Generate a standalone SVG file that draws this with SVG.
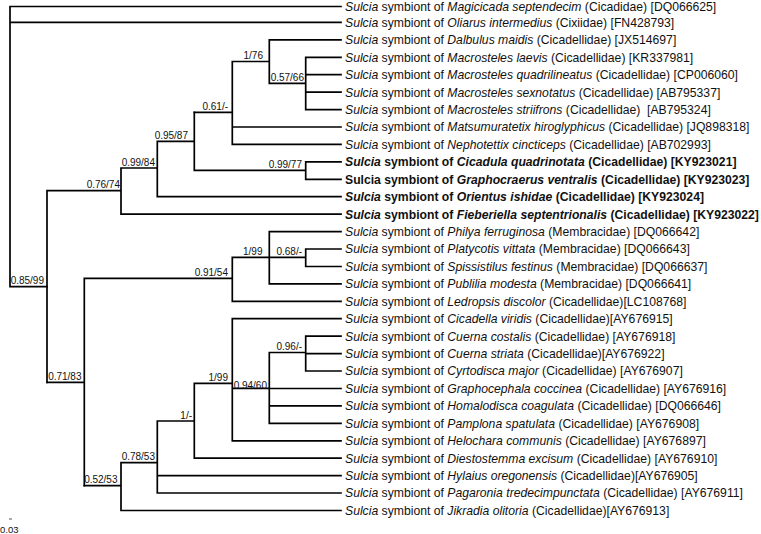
<svg xmlns="http://www.w3.org/2000/svg" width="761" height="534" viewBox="0 0 761 534">
<style>
.br{fill:none;stroke:#000;stroke-width:1.7;stroke-linecap:square}
.lf{font-family:"Liberation Sans",Arial,sans-serif;font-size:12.2px;fill:#111;white-space:pre}
.b{font-weight:bold}
.i{font-style:italic}
.sp{font-family:"Liberation Sans",Arial,sans-serif;font-size:10px;fill:#111;text-anchor:end}
</style>
<rect width="761" height="534" fill="#fff"/>
<g id="connectors">
<path class="br" d="M10,6.5V286.7M10,6.5H341M10,22.4H341M10,286.7H47"/>
<path class="br" d="M47,190.7V382.3M47,190.7H121M121,168V214.2M121,214.2H341M121,168H157.3M157.3,141.3V196.7M157.3,196.7H341M157.3,141.3H194.3M194.3,112.3V170.3M194.3,170.3H305.7M305.7,161.9V179.3M305.7,161.9H341M305.7,179.3H341"/>
<path class="br" d="M194.3,112.3H232.3M232.3,61.5V144.4M232.3,127H341M232.3,144.4H341M232.3,61.5H269.3M269.3,39.9V83.3M269.3,39.9H341M269.3,83.3H305.7M305.7,57.3V109.6M305.7,57.3H341M305.7,74.7H341M305.7,92.2H341M305.7,109.6H341"/>
<path class="br" d="M47,382.3H84.3M84.3,278.3V485.7M84.3,278.3H232.3M232.3,257.3V301.3M232.3,301.3H341M232.3,257.3H269.3M269.3,231.6V283.9M269.3,231.6H341M269.3,283.9H341M269.3,257.3H305.7M305.7,249V266.5M305.7,249H341M305.7,266.5H341"/>
<path class="br" d="M84.3,485.7H121M121,462.7V510.5M121,510.5H341M121,462.7H157.3M157.3,421V493M157.3,475.6H341M157.3,493H341M157.3,421H194.3M194.3,383.3V458.2M194.3,458.2H341M194.3,383.3H232.3M232.3,318.7V440.8M232.3,318.7H341M232.3,440.8H341M232.3,388.3H269.3M269.3,352.5V423.3M269.3,388.5H341M269.3,405.9H341M269.3,423.3H341M269.3,352.5H305.7M305.7,336.2V371M305.7,336.2H341M305.7,353.6H341M305.7,371H341"/>
<path d="M9,519H12" stroke="#555" stroke-width="1"/>
</g>
<g id="leaves">
<g id="leaf-magicicada"><text class="lf" x="345" y="11"><tspan class="i">Sulcia</tspan> symbiont of <tspan class="i">Magicicada septendecim</tspan> (Cicadidae) [DQ066625]</text></g>
<g id="leaf-oliarus"><text class="lf" x="345" y="26.7"><tspan class="i">Sulcia</tspan> symbiont of <tspan class="i">Oliarus intermedius</tspan> (Cixiidae) [FN428793]</text></g>
<g id="leaf-dalbulus"><text class="lf" x="345" y="44.2"><tspan class="i">Sulcia</tspan> symbiont of <tspan class="i">Dalbulus maidis</tspan> (Cicadellidae) [JX514697]</text></g>
<g id="leaf-m-laevis"><text class="lf" x="345" y="61.6"><tspan class="i">Sulcia</tspan> symbiont of <tspan class="i">Macrosteles laevis</tspan> (Cicadellidae) [KR337981]</text></g>
<g id="leaf-m-quadrilineatus"><text class="lf" x="345" y="79"><tspan class="i">Sulcia</tspan> symbiont of <tspan class="i">Macrosteles quadrilineatus</tspan> (Cicadellidae) [CP006060]</text></g>
<g id="leaf-m-sexnotatus"><text class="lf" x="345" y="96.5"><tspan class="i">Sulcia</tspan> symbiont of <tspan class="i">Macrosteles sexnotatus</tspan> (Cicadellidae) [AB795337]</text></g>
<g id="leaf-m-striifrons"><text class="lf" x="345" y="113.9"><tspan class="i">Sulcia</tspan> symbiont of <tspan class="i">Macrosteles striifrons</tspan> (Cicadellidae)  [AB795324]</text></g>
<g id="leaf-matsumuratetix"><text class="lf" x="345" y="131.3"><tspan class="i">Sulcia</tspan> symbiont of <tspan class="i">Matsumuratetix hiroglyphicus</tspan> (Cicadellidae) [JQ898318]</text></g>
<g id="leaf-nephotettix"><text class="lf" x="345" y="148.7"><tspan class="i">Sulcia</tspan> symbiont of <tspan class="i">Nephotettix cincticeps</tspan> (Cicadellidae) [AB702993]</text></g>
<g id="leaf-cicadula"><text class="lf b" x="345" y="166.2"><tspan class="i">Sulcia</tspan> symbiont of <tspan class="i">Cicadula quadrinotata</tspan> (Cicadellidae) [KY923021]</text></g>
<g id="leaf-graphocraerus"><text class="lf b" x="345" y="183.6">Sulcia symbiont of <tspan class="i">Graphocraerus ventralis</tspan> (Cicadellidae) [KY923023]</text></g>
<g id="leaf-orientus"><text class="lf b" x="345" y="201"><tspan class="i">Sulcia</tspan> symbiont of <tspan class="i">Orientus ishidae</tspan> (Cicadellidae) [KY923024]</text></g>
<g id="leaf-fieberiella"><text class="lf b" x="345" y="218.5"><tspan class="i">Sulcia</tspan> symbiont of <tspan class="i">Fieberiella septentrionalis</tspan> (Cicadellidae) [KY923022]</text></g>
<g id="leaf-philya"><text class="lf" x="345" y="235.9"><tspan class="i">Sulcia</tspan> symbiont of <tspan class="i">Philya ferruginosa</tspan> (Membracidae) [DQ066642]</text></g>
<g id="leaf-platycotis"><text class="lf" x="345" y="253.3"><tspan class="i">Sulcia</tspan> symbiont of <tspan class="i">Platycotis vittata</tspan> (Membracidae) [DQ066643]</text></g>
<g id="leaf-spissistilus"><text class="lf" x="345" y="270.8"><tspan class="i">Sulcia</tspan> symbiont of <tspan class="i">Spissistilus festinus</tspan> (Membracidae) [DQ066637]</text></g>
<g id="leaf-publilia"><text class="lf" x="345" y="288.2"><tspan class="i">Sulcia</tspan> symbiont of <tspan class="i">Publilia modesta</tspan> (Membracidae) [DQ066641]</text></g>
<g id="leaf-ledropsis"><text class="lf" x="345" y="305.6"><tspan class="i">Sulcia</tspan> symbiont of <tspan class="i">Ledropsis discolor</tspan> (Cicadellidae)[LC108768]</text></g>
<g id="leaf-cicadella"><text class="lf" x="345" y="323"><tspan class="i">Sulcia</tspan> symbiont of <tspan class="i">Cicadella viridis</tspan> (Cicadellidae)[AY676915]</text></g>
<g id="leaf-c-costalis"><text class="lf" x="345" y="340.5"><tspan class="i">Sulcia</tspan> symbiont of <tspan class="i">Cuerna costalis</tspan> (Cicadellidae) [AY676918]</text></g>
<g id="leaf-c-striata"><text class="lf" x="345" y="357.9"><tspan class="i">Sulcia</tspan> symbiont of <tspan class="i">Cuerna striata</tspan> (Cicadellidae)[AY676922]</text></g>
<g id="leaf-cyrtodisca"><text class="lf" x="345" y="375.3"><tspan class="i">Sulcia</tspan> symbiont of <tspan class="i">Cyrtodisca major</tspan> (Cicadellidae) [AY676907]</text></g>
<g id="leaf-graphocephala"><text class="lf" x="345" y="392.8"><tspan class="i">Sulcia</tspan> symbiont of <tspan class="i">Graphocephala coccinea</tspan> (Cicadellidae) [AY676916]</text></g>
<g id="leaf-homalodisca"><text class="lf" x="345" y="410.2"><tspan class="i">Sulcia</tspan> symbiont of <tspan class="i">Homalodisca coagulata</tspan> (Cicadellidae) [DQ066646]</text></g>
<g id="leaf-pamplona"><text class="lf" x="345" y="427.6"><tspan class="i">Sulcia</tspan> symbiont of <tspan class="i">Pamplona spatulata</tspan> (Cicadellidae) [AY676908]</text></g>
<g id="leaf-helochara"><text class="lf" x="345" y="445.1"><tspan class="i">Sulcia</tspan> symbiont of <tspan class="i">Helochara communis</tspan> (Cicadellidae) [AY676897]</text></g>
<g id="leaf-diestostemma"><text class="lf" x="345" y="462.5"><tspan class="i">Sulcia</tspan> symbiont of <tspan class="i">Diestostemma excisum</tspan> (Cicadellidae) [AY676910]</text></g>
<g id="leaf-hylaius"><text class="lf" x="345" y="479.9"><tspan class="i">Sulcia</tspan> symbiont of <tspan class="i">Hylaius oregonensis</tspan> (Cicadellidae)[AY676905]</text></g>
<g id="leaf-pagaronia"><text class="lf" x="345" y="497.3"><tspan class="i">Sulcia</tspan> symbiont of <tspan class="i">Pagaronia tredecimpunctata</tspan> (Cicadellidae) [AY676911]</text></g>
<g id="leaf-jikradia"><text class="lf" x="345" y="514.8"><tspan class="i">Sulcia</tspan> symbiont of <tspan class="i">Jikradia olitoria</tspan> (Cicadellidae)[AY676913]</text></g>
</g>
<g id="support">
<g id="n-085-99"><text class="sp" x="44" y="284.3">0.85/99</text></g>
<g id="n-076-74"><text class="sp" x="120" y="188.3">0.76/74</text></g>
<g id="n-099-84"><text class="sp" x="155" y="165.6">0.99/84</text></g>
<g id="n-095-87"><text class="sp" x="188" y="138.9">0.95/87</text></g>
<g id="n-061"><text class="sp" x="228" y="109.9">0.61/-</text></g>
<g id="n-1-76"><text class="sp" x="263" y="59.1">1/76</text></g>
<g id="n-057-66"><text class="sp" x="304" y="80.9">0.57/66</text></g>
<g id="n-099-77"><text class="sp" x="302" y="167.9">0.99/77</text></g>
<g id="n-071-83"><text class="sp" x="81.5" y="379.9">0.71/83</text></g>
<g id="n-091-54"><text class="sp" x="228" y="275.9">0.91/54</text></g>
<g id="n-1-99a"><text class="sp" x="262.5" y="254.9">1/99</text></g>
<g id="n-068"><text class="sp" x="302" y="254.9">0.68/-</text></g>
<g id="n-052-53"><text class="sp" x="117.5" y="483.3">0.52/53</text></g>
<g id="n-078-53"><text class="sp" x="155" y="460.3">0.78/53</text></g>
<g id="n-1"><text class="sp" x="192" y="418.6">1/-</text></g>
<g id="n-1-99b"><text class="sp" x="228" y="380.9">1/99</text></g>
<g id="n-094-60"><text class="sp" x="267" y="389">0.94/60</text></g>
<g id="n-096"><text class="sp" x="302" y="350.1">0.96/-</text></g>
</g>
<g id="scale"><text class="sp" style="text-anchor:start;font-size:9.5px" x="0" y="533">0.03</text></g>
</svg>
